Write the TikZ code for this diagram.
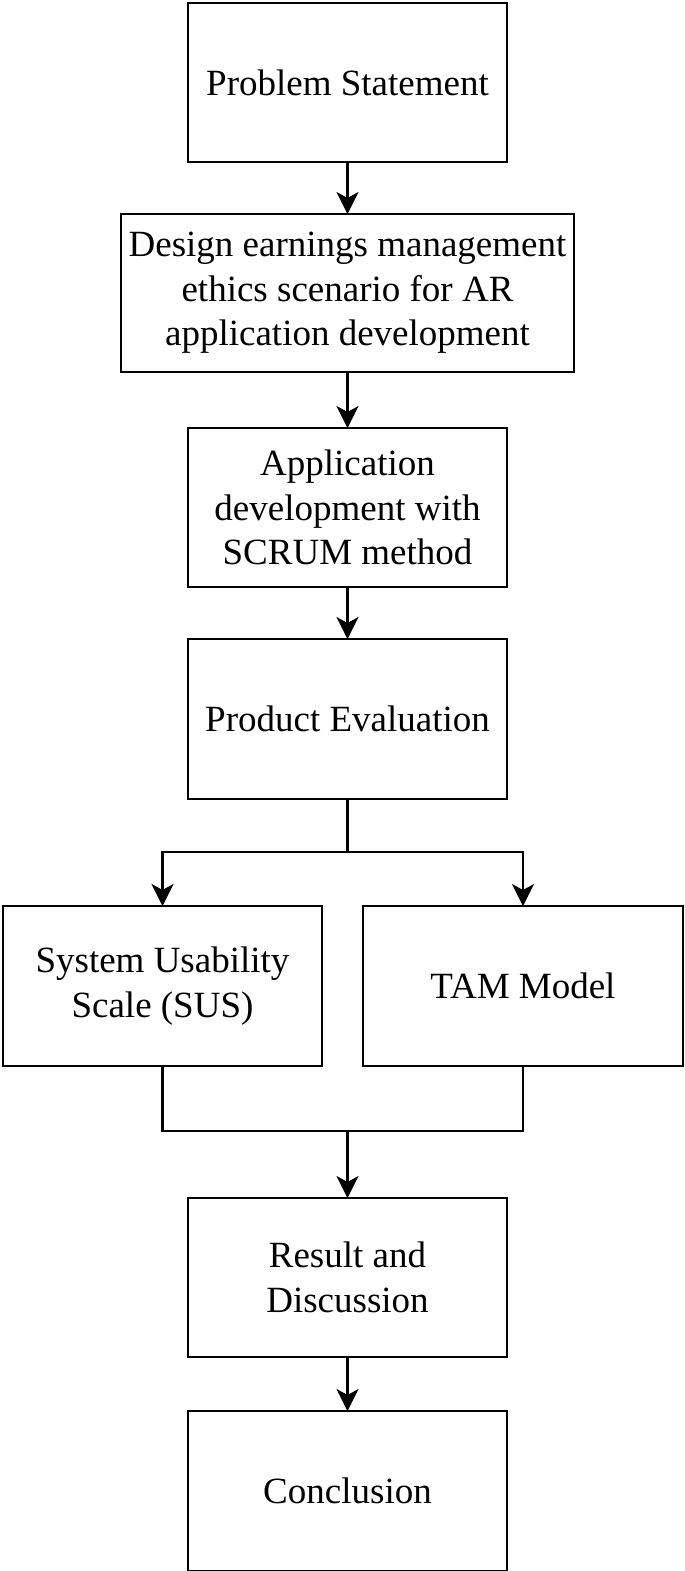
\documentclass[tikz,border=0pt]{standalone}
\usepackage{fontspec}
\setmainfont{Liberation Serif}
\usetikzlibrary{positioning,arrows.meta}

\begin{document}
\begin{tikzpicture}[
    box/.style={draw, line width=1.2pt, align=center, inner sep=0pt, outer sep=0pt,
                minimum width=159.5pt, minimum height=79.5pt,
                font=\fontsize{18.5}{22.3}\selectfont},
    every path/.style={line width=1.2pt},
    >={Stealth[length=11pt,width=11pt,inset=3pt]}]
    \useasboundingbox (0,0) rectangle (342.5pt,-785.5pt);
    \node (problem) [box] at (173.75pt,-41.25pt) {Problem Statement};
    \node (design) [box, minimum width=226.5pt, minimum height=79pt, below=26pt of problem] {Design earnings management\\ethics scenario for AR\\application development};
    \node (develop) [box, below=28pt of design] {Application\\development with\\SCRUM method};
    \node (product) [box, minimum height=80pt, below=26pt of develop] {Product Evaluation};
    \node (sus) [box, minimum height=80pt, below=53.5pt of product, xshift=-92.5pt] {System Usability\\Scale (SUS)};
    \node (tam) [box, minimum width=160pt, minimum height=80pt, below=53.5pt of product, xshift=87.75pt] {TAM Model};
    \node (result) [box, below=66pt of sus, xshift=92.5pt] {Result and\\Discussion};
    \node (conclusion) [box, minimum height=80pt, below=27pt of result] {Conclusion};
    \coordinate (split) at ([yshift=-26.5pt]product.south);
    \coordinate (merge) at ([yshift=-32.5pt]sus.south -| result.north);
    \path (problem) edge[->] (design)
          (design) edge[->] (develop)
          (develop) edge[->] (product)
          (result) edge[->] (conclusion);
    \draw (product) -- (split);
    \draw[->] (split) -| (sus);
    \draw[->] (split) -| (tam);
    \draw (sus.south) |- (merge) -| (tam.south);
    \draw[->] (merge) -- (result);
\end{tikzpicture}
\end{document}
